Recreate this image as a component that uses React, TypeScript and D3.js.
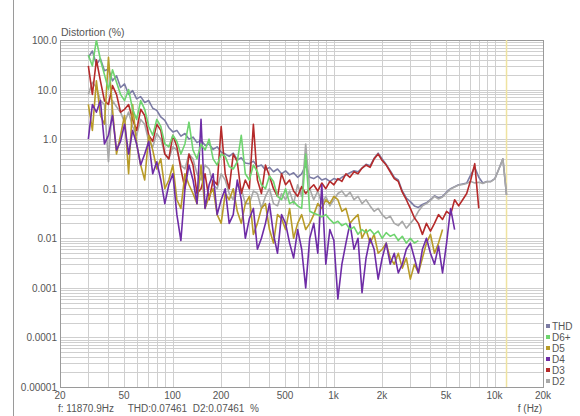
import React from 'react';
import * as d3 from 'd3';

const FREQS = [30, 31.78, 33.66, 35.65, 37.77, 40.0, 42.37, 44.88, 47.54, 50.36,
  53.35, 56.51, 59.86, 63.4, 67.16, 71.14, 75.36, 79.82, 84.55, 89.56,
  94.87, 100.5, 106.4, 112.7, 119.4, 126.5, 134.0, 141.9, 150.3, 159.2,
  168.7, 178.7, 189.3, 200.5, 212.4, 224.9, 238.3, 252.4, 267.3, 283.2,
  300, 317.8, 336.6, 356.5, 377.7, 400, 423.7, 448.8, 475.4, 503.6,
  533.5, 565.1, 598.6, 634.0, 671.6, 711.4, 753.6, 798.2, 845.5, 895.6,
  948.7, 1005, 1064, 1127, 1194, 1265, 1340, 1419, 1503, 1592,
  1687, 1787, 1893, 2005, 2124, 2249, 2383, 2524, 2673, 2832,
  3000, 3178, 3366, 3565, 3777, 4000, 4237, 4488, 4754, 5036,
  5335, 5651, 5986, 6340, 6716, 7114, 7536, 7982, 8455, 8956,
  9487, 10050, 10640, 11270, 11871];

const THD = [45, 60, 32, 42, 24, 26, 15, 19, 11, 13,
  8, 9.5, 6.5, 7.2, 5.5, 6, 4.2, 3.8, 2.8, 2.4,
  1.7, 1.4, 1.5, 1.15, 1.3, 1.0, 1.1, 0.85, 0.95, 0.75,
  0.8, 0.62, 0.7, 0.55, 0.5, 0.45, 0.52, 0.38, 0.42, 0.33,
  0.32, 0.36, 0.28, 0.3, 0.24, 0.27, 0.22, 0.25, 0.2, 0.23,
  0.19, 0.21, 0.17, 0.2, 0.3, 0.17, 0.16, 0.18, 0.15, 0.16,
  0.14, 0.16, 0.15, 0.17, 0.19, 0.21, 0.23, 0.22, 0.26, 0.31,
  0.29, 0.41, 0.52, 0.4, 0.31, 0.23, 0.17, 0.15, 0.09, 0.065,
  0.055, 0.045, 0.042, 0.048, 0.052, 0.06, 0.072, 0.065, 0.07, 0.085,
  0.1, 0.11, 0.12, 0.125, 0.13, 0.19, 0.27, 0.17, 0.13, 0.14,
  0.14, 0.16, 0.25, 0.4, 0.075];

const D2 = [8, 14, 11, 6, 5, 0.35, 6, 4.5, 3.5, 2.2,
  3.5, 1.8, 1.2, 2.5, 2, 0.9, 0.7, 1.3, 1, 0.5,
  0.4, 0.7, 0.6, 0.3, 0.25, 0.5, 0.4, 0.2, 0.15, 0.3,
  0.25, 0.12, 0.1, 0.2, 0.15, 0.08, 0.06, 0.12, 0.1, 0.05,
  0.05, 0.09, 0.08, 0.04, 0.07, 0.1, 0.05, 0.045, 0.08, 0.06,
  0.09, 0.05, 0.12, 0.07, 0.8, 0.1, 0.06, 0.09, 0.05, 0.07,
  0.045, 0.06, 0.08, 0.09, 0.07, 0.085, 0.06, 0.07, 0.05, 0.06,
  0.045, 0.035, 0.04, 0.03, 0.025, 0.028, 0.02, 0.018, 0.022, 0.016,
  0.02, 0.025, 0.035, 0.045, 0.05, 0.058, 0.07, 0.062, 0.068, 0.082,
  0.098, 0.108, 0.118, 0.122, 0.128, 0.14, 0.13, 0.135, 0.128, 0.138,
  0.139, 0.158, 0.25, 0.4, 0.075];

const D3 = [30, 8, 40, 15, 6, 5, 12, 8, 3.5, 4,
  5, 2.5, 1.5, 4, 3, 1.2, 0.9, 2, 1.5, 0.5,
  0.4, 1.2, 0.7, 0.25, 0.1, 0.5, 0.3, 0.08, 0.1, 0.2,
  0.06, 0.15, 0.12, 1.8, 0.2, 0.1, 0.5, 0.35, 0.08, 0.15,
  0.1, 2.0, 0.15, 0.08, 0.3, 0.18, 0.1, 0.07, 0.2, 0.12,
  0.15, 0.09, 0.07, 0.11, 0.08, 0.1, 0.12, 0.09, 0.13, 0.1,
  0.14, 0.12, 0.16, 0.14, 0.2, 0.17, 0.22, 0.2, 0.26, 0.3,
  0.27, 0.4, 0.5, 0.37, 0.3, 0.22, 0.16, 0.14, 0.085, 0.06,
  0.04, 0.026, 0.02, 0.012, 0.02, 0.014, 0.02, 0.03, 0.024, 0.035,
  0.03, 0.06, 0.045, 0.06, 0.08, 0.15, 0.32, 0.04];

const D4 = [1.0, 5, 3.5, 6, 0.8, 1.2, 3, 0.6, 0.9, 2,
  0.5, 1.5, 0.8, 0.3, 0.5, 0.9, 0.2, 0.35, 0.15, 0.05,
  0.12, 0.2, 0.03, 0.009, 0.1, 0.3, 0.15, 0.05, 2.5, 0.04,
  0.12, 0.2, 0.03, 0.06, 0.1, 0.02, 0.03, 0.15, 0.06, 0.01,
  0.025, 0.04, 0.006, 0.01, 0.02, 0.05, 0.012, 0.005, 0.03, 0.02,
  0.008, 0.004, 0.015, 0.006, 0.001, 0.01, 0.02, 0.005, 0.12, 0.003,
  0.015, 0.009, 0.0006, 0.003, 0.008, 0.02, 0.006, 0.01, 0.0008, 0.004,
  0.01, 0.006, 0.0015, 0.004, 0.008, 0.003, 0.005, 0.002, 0.003, 0.006,
  0.008, 0.004, 0.002, 0.006, 0.01, 0.005, 0.003, 0.007, 0.002, 0.008,
  0.04, 0.015];

const D5 = [5, 1.5, 15, 3, 2, 45, 4, 0.5, 1.2, 3,
  0.2, 5, 0.8, 0.3, 0.15, 1.2, 0.6, 0.25, 0.4, 0.1,
  0.15, 0.3, 0.06, 0.04, 0.2, 0.12, 0.08, 0.05, 0.3, 0.04,
  0.07, 0.1, 0.03, 0.02, 0.08, 0.06, 0.1, 0.035, 0.02, 0.05,
  0.07, 0.012, 0.02, 0.04, 0.05, 0.015, 0.008, 0.03, 0.025, 0.015,
  0.04, 0.01, 0.02, 0.03, 0.015, 0.02, 0.03, 0.05, 0.04, 0.06,
  0.05, 0.07, 0.06, 0.035, 0.04, 0.02, 0.025, 0.03, 0.01, 0.015,
  0.008, 0.012, 0.005, 0.006, 0.008, 0.004, 0.003, 0.005, 0.0025, 0.004,
  0.0015, 0.003, 0.002, 0.004, 0.008, 0.012, 0.005, 0.008, 0.015];

const D6 = [50, 30, 100, 40, 20, 10, 25, 14, 8, 6,
  10, 4, 2.5, 6, 4, 1.8, 1.2, 2.5, 1.8, 0.8,
  0.7, 1.2, 0.9, 0.5, 0.8, 2.2, 0.6, 0.4, 0.8, 0.6,
  1.0, 0.4, 0.3, 0.5, 0.45, 0.28, 0.25, 0.35, 1.2, 0.2,
  0.15, 0.3, 0.22, 0.12, 0.1, 0.18, 0.14, 0.07, 0.06, 0.1,
  0.05, 0.055, 0.045, 0.04, 0.5, 0.035, 0.032, 0.03, 0.027, 0.03,
  0.024, 0.02, 0.022, 0.018, 0.02, 0.015, 0.017, 0.012, 0.015, 0.013,
  0.015, 0.012, 0.014, 0.01, 0.013, 0.011, 0.012, 0.009, 0.011, 0.008,
  0.01, 0.008, 0.009];

const SERIES_NAMES = ['THD', 'D2', 'D3', 'D5', 'D4', 'D6+'];
const SERIES_VALUES = [THD, D2, D3, D5, D4, D6];
const SERIES_COLORS = ['#7c7ca4', '#a8a8a8', '#b52a2a', '#b89b28', '#6e2ca6', '#6ed46e'];

const LEGEND_NAMES = ['THD', 'D6+', 'D5', 'D4', 'D3', 'D2'];
const LEGEND_COLORS = ['#7c7ca4', '#6ed46e', '#b89b28', '#6e2ca6', '#b52a2a', '#a8a8a8'];

const X_TICKS = [20, 50, 100, 200, 500, 1000, 2000, 5000, 10000, 20000];
const X_TICK_LABELS = ['20', '50', '100', '200', '500', '1k', '2k', '5k', '10k', '20k'];
const Y_TICKS = [100, 10, 1, 0.1, 0.01, 0.001, 0.0001, 0.00001];
const Y_TICK_LABELS = ['100.0', '10.0', '1.0', '0.1', '0.01', '0.001', '0.0001', '0.00001'];
const CURSOR_FREQ = 11870.9;
const STATUS_TEXT = 'f: 11870.9Hz     THD:0.07461  D2:0.07461  %';

const W = 580, H = 416;
const L = 60, R = 543, T = 40, B = 387;
const FONT = '"Liberation Sans", Arial, sans-serif';
const TXT = '#555';

export default function App() {
  const x = d3.scaleLog().domain([20, 20000]).range([L, R]);
  const y = d3.scaleLog().domain([0.00001, 100]).range([B, T]);

  const vGrid: number[] = [];
  for (let d = 10; d <= 10000; d *= 10) {
    for (let m = 1; m <= 9; m++) {
      const v = d * m;
      if (v >= 20 && v <= 20000) vGrid.push(v);
    }
  }
  vGrid.push(20000);
  const hGrid: number[] = [];
  for (let e = -5; e <= 1; e++) {
    for (let m = 1; m <= 9; m++) hGrid.push(m * Math.pow(10, e));
  }
  hGrid.push(100);

  const line = d3.line<[number, number]>()
    .x(d => x(d[0]))
    .y(d => y(Math.max(1e-6, d[1])));

  return (
    <svg width={W} height={H} style={{ position: 'absolute', left: 0, top: 0, background: '#fff' }}>
      <defs>
        <clipPath id="plot">
          <rect x={L} y={T} width={R - L} height={B - T} />
        </clipPath>
      </defs>
      <line x1={13.5} x2={13.5} y1={0} y2={H} stroke="#9a9a9a" strokeWidth={1} />
      {hGrid.map((v, i) => (
        <line key={'h' + i} x1={L} x2={R} y1={Math.round(y(v)) + 0.5} y2={Math.round(y(v)) + 0.5} stroke="#cfcfcf" strokeWidth={1} />
      ))}
      {vGrid.map((v, i) => (
        <line key={'v' + i} x1={Math.round(x(v)) + 0.5} x2={Math.round(x(v)) + 0.5} y1={T} y2={B} stroke="#cfcfcf" strokeWidth={1} />
      ))}
      <rect x={L + 0.5} y={T + 0.5} width={R - L} height={B - T} fill="none" stroke="#9a9a9a" strokeWidth={1} />
      <line x1={x(CURSOR_FREQ)} x2={x(CURSOR_FREQ)} y1={T} y2={B} stroke="#efe3a0" strokeWidth={1.5} />
      <g clipPath="url(#plot)">
        {SERIES_VALUES.map((vals, si) => {
          const pts: [number, number][] = vals.map((v, i) => [FREQS[i], v]);
          return (
            <path key={SERIES_NAMES[si]} d={line(pts) || ''} fill="none" stroke={SERIES_COLORS[si]} strokeWidth={1.6} strokeLinejoin="round" />
          );
        })}
      </g>
      <text x={L + 1} y={T - 4} fontFamily={FONT} fontSize={10.5} fill={TXT}>Distortion (%)</text>
      {Y_TICKS.map((v, i) => (
        <text key={'yt' + i} x={L - 3} y={y(v) + 4} textAnchor="end" fontFamily={FONT} fontSize={10} fill={TXT}>{Y_TICK_LABELS[i]}</text>
      ))}
      {X_TICKS.map((v, i) => (
        <text key={'xt' + i} x={x(v)} y={B + 12} textAnchor="middle" fontFamily={FONT} fontSize={10} fill={TXT}>{X_TICK_LABELS[i]}</text>
      ))}
      <text x={530} y={B + 25} textAnchor="middle" fontFamily={FONT} fontSize={10} fill={TXT}>f (Hz)</text>
      <text x={58} y={B + 25} fontFamily={FONT} fontSize={10} fill={TXT} style={{ whiteSpace: 'pre' }}>{STATUS_TEXT}</text>
      {LEGEND_NAMES.map((n, i) => (
        <g key={'lg' + i}>
          <rect x={546} y={324 + i * 11} width={4} height={4} fill={LEGEND_COLORS[i]} />
          <text x={552} y={330 + i * 11} fontFamily={FONT} fontSize={10} fill={TXT}>{n}</text>
        </g>
      ))}
    </svg>
  );
}
